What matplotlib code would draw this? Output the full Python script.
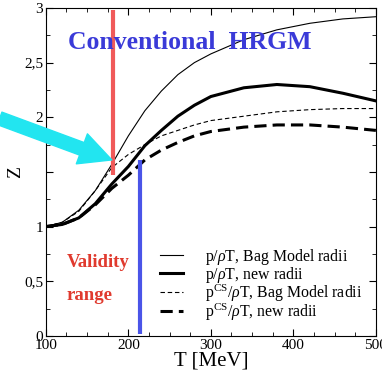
"""Compressibility Z(T) of the conventional hadron resonance gas model."""

import matplotlib
matplotlib.use("Agg")
import matplotlib.pyplot as plt
from matplotlib.ticker import MultipleLocator, FixedLocator, FuncFormatter

T_MEV = [100, 120, 140, 160, 180, 200, 220, 240, 260, 280, 300, 340, 380, 420, 460, 500]

Z_BAG = [1.00, 1.04, 1.15, 1.33, 1.57, 1.83, 2.06, 2.24, 2.39, 2.50, 2.58, 2.71, 2.80, 2.86, 2.90, 2.92]
Z_NEW = [1.00, 1.02, 1.08, 1.21, 1.39, 1.55, 1.74, 1.88, 2.01, 2.11, 2.19, 2.27, 2.30, 2.28, 2.22, 2.15]
Z_CS_BAG = [1.00, 1.04, 1.14, 1.33, 1.54, 1.66, 1.75, 1.83, 1.88, 1.93, 1.97, 2.01, 2.05, 2.07, 2.08, 2.08]
Z_CS_NEW = [1.00, 1.02, 1.08, 1.20, 1.35, 1.47, 1.61, 1.70, 1.77, 1.83, 1.87, 1.91, 1.93, 1.93, 1.91, 1.88]

LABELS = [
    r"p/$\rho$T, Bag Model radii",
    r"p/$\rho$T, new radii",
    r"p$^{\rm CS}$/$\rho$T, Bag Model radii",
    r"p$^{\rm CS}$/$\rho$T, new radii",
]

T_RED = 181
T_BLUE = 214

plt.rcParams["font.family"] = ["Liberation Serif", "DejaVu Serif"]
plt.rcParams["mathtext.fontset"] = "custom"
plt.rcParams["mathtext.rm"] = "Liberation Serif"
plt.rcParams["mathtext.it"] = "Liberation Serif:italic"


def comma(v, _pos):
    if abs(v - 1.5) < 1e-6:
        return ""
    return f"{v:g}".replace(".", ",")


def main() -> None:
    fig = plt.figure(figsize=(3.82, 3.80), dpi=100)
    ax = fig.add_axes([0.12, 0.116, 0.864, 0.863])

    ax.plot(T_MEV, Z_BAG, color="black", lw=0.8, label=LABELS[0])
    ax.plot(T_MEV, Z_NEW, color="black", lw=2.2, label=LABELS[1])
    ax.plot(T_MEV, Z_CS_BAG, color="black", lw=0.8, dashes=(4, 2.5), label=LABELS[2])
    ax.plot(T_MEV, Z_CS_NEW, color="black", lw=2.2, dashes=(4, 2), label=LABELS[3])

    ax.plot([T_RED, T_RED], [1.47, 2.98], color="#f05a5a", lw=3, solid_capstyle="butt")
    ax.plot([T_BLUE, T_BLUE], [0.02, 1.61], color="#4a55e8", lw=3, solid_capstyle="butt")

    ax.annotate(
        "", xy=(180, 1.61), xytext=(44, 1.99), xycoords="data",
        annotation_clip=False,
        arrowprops=dict(arrowstyle="simple,head_length=1.15,head_width=1.15,tail_width=0.48",
                        color="#22e5f0", mutation_scale=20, shrinkA=0, shrinkB=0),
    )

    ax.text(126.5, 2.68, "Conventional  HRGM", color="#3a3ad8", fontsize=18.5,
            fontweight="bold", va="center", ha="left")
    ax.text(125.5, 0.67, "Validity", color="#e03a2e", fontsize=13.5,
            fontweight="bold", va="center", ha="left")
    ax.text(125.5, 0.37, "range", color="#e03a2e", fontsize=13.5,
            fontweight="bold", va="center", ha="left")

    ax.set_xlim(100, 500)
    ax.set_ylim(0, 3)
    ax.xaxis.set_major_locator(MultipleLocator(100))
    ax.xaxis.set_minor_locator(MultipleLocator(25))
    ax.yaxis.set_major_locator(FixedLocator([0, 0.5, 1, 1.5, 2, 2.5, 3]))
    ax.yaxis.set_minor_locator(MultipleLocator(0.25))
    ax.yaxis.set_major_formatter(FuncFormatter(comma))
    ax.tick_params(which="both", direction="in", top=True, right=True, labelsize=11, pad=2)
    ax.tick_params(which="major", length=5)
    ax.tick_params(which="minor", length=3)

    ax.set_xlabel("T [MeV]", fontsize=15, labelpad=0)
    ax.set_ylabel("Z", fontsize=14)
    ax.yaxis.set_label_coords(-0.065, 0.5)

    ax.legend(loc="upper left", bbox_to_anchor=(0.345, 0.272), frameon=False, fontsize=11.4,
              handlelength=1.45, handletextpad=1.4, labelspacing=-0.14,
              borderaxespad=0, borderpad=0)

    fig.savefig("out.png", dpi=100)
    plt.close(fig)


if __name__ == "__main__":
    main()
